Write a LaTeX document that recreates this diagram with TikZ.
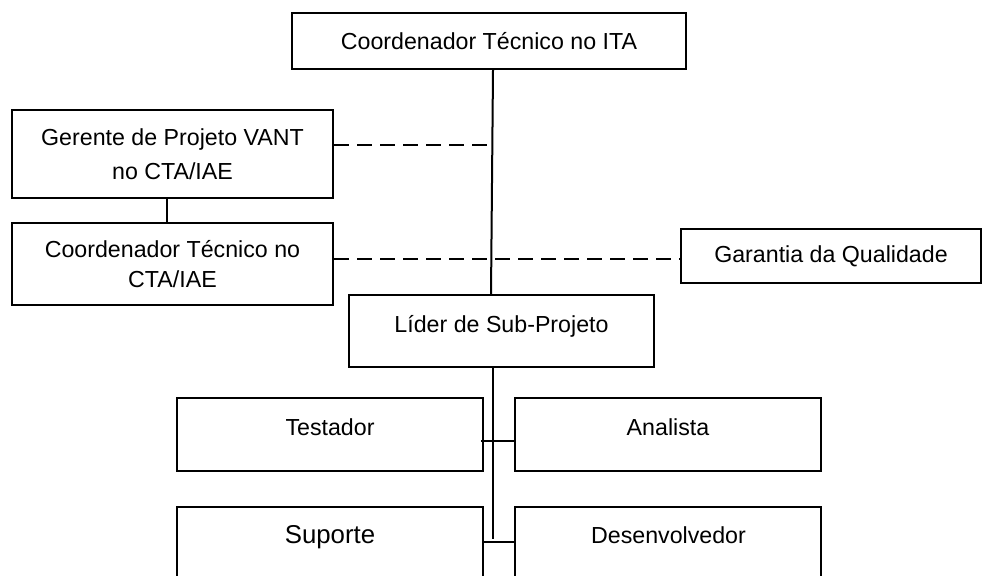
\documentclass[tikz,border=0pt]{standalone}
\usepackage{fontspec}
\setmainfont{Liberation Sans}
\usetikzlibrary{calc}
\newcommand\boxfont{\fontsize{11.6pt}{16pt}\selectfont}
\newcommand\boxfontA{\fontsize{11.6pt}{17pt}\selectfont}
\newcommand\boxfontB{\fontsize{11.6pt}{15pt}\selectfont}
\newcommand\bigboxfont{\fontsize{12.9pt}{16pt}\selectfont}
\begin{document}
\begin{tikzpicture}[x=0.5pt,y=-0.5pt,line width=1pt,
  box/.style={draw,rectangle,inner sep=0pt,align=center,font=\boxfont},
  lbl/.style={anchor=base,inner sep=0pt,font=\boxfont},
  dashline/.style={dash pattern=on 7.5pt off 4pt}]
\useasboundingbox (0,0) rectangle (989,575);
% boxes
\node[box,minimum width=197pt,minimum height=28pt] (ita) at (489,41) {Coordenador Técnico no ITA};
\node[box,minimum width=160.5pt,minimum height=44pt,font=\boxfontA] (ger) at (172.5,154) {Gerente de Projeto VANT\\no CTA/IAE};
\node[box,minimum width=160.5pt,minimum height=41pt,font=\boxfontB] (cta) at (172.5,264) {Coordenador Técnico no\\CTA/IAE};
\node[box,minimum width=150pt,minimum height=27pt] (qa) at (831,256) {Garantia da Qualidade};
\node[box,minimum width=152.5pt,minimum height=36pt] (lid) at (501.5,331) {};
\node[lbl] (lidt) at (501.5,332) {Líder de Sub-Projeto};
\node[box,minimum width=153pt,minimum height=36.5pt] (tes) at (330,434.5) {};
\node[lbl] (test) at (330,435) {Testador};
\node[box,minimum width=153pt,minimum height=36.5pt] (ana) at (668,434.5) {};
\node[lbl] (anat) at (668,435) {Analista};
\node[box,minimum width=153pt,minimum height=36.5pt] (sup) at (330,543.5) {};
\node[lbl,font=\bigboxfont] (supt) at (330,543) {Suporte};
\node[box,minimum width=153pt,minimum height=36.5pt] (dev) at (668,543.5) {};
\node[lbl] (devt) at (668.5,543) {Desenvolvedor};
% connectors
\draw ($(ita.south)+(4,0)$) -- ($(lid.north)+(-10.5,0)$);
\draw[dashline] ($(ger.east)+(0,-9)$) -- ++(159,0);
\draw[dashline] ($(cta.east)+(0,-5)$) -- ($(qa.west)+(0,3)$);
\draw ($(ger.south)+(-5.5,0)$) -- ($(cta.north)+(-5.5,0)$);
\draw ($(lid.south)+(-8.5,0)$) -- ++(0,171);
\draw ($(tes.east)+(-3,6.5)$) -- ($(ana.west)+(0,6.5)$);
\draw ($(sup.east)+(0,-1.5)$) -- ($(dev.west)+(0,-1.5)$);
\end{tikzpicture}
\end{document}
